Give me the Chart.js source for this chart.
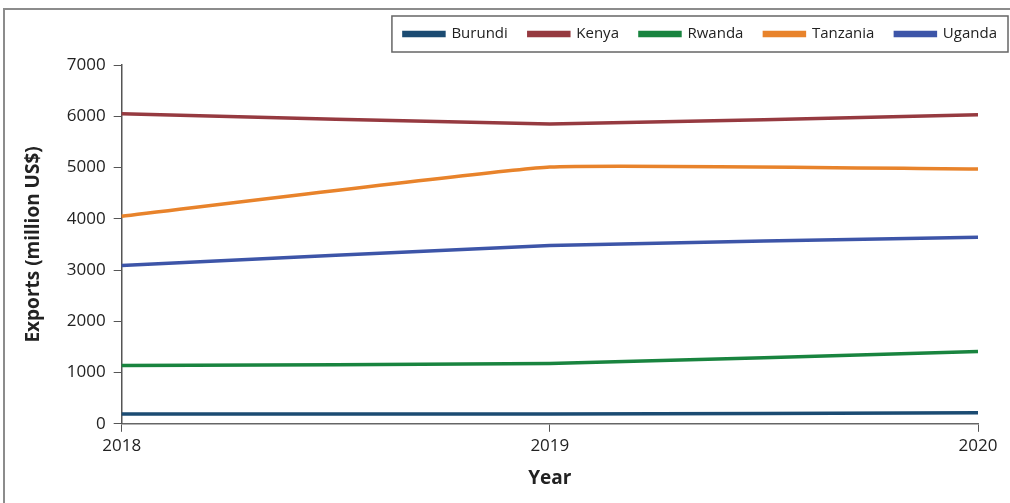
<!DOCTYPE html>
<html>
<head>
<meta charset="utf-8">
<script src="https://cdn.jsdelivr.net/npm/chart.js@4/dist/chart.umd.min.js"></script>
<style>
  html, body { margin: 0; padding: 0; background: #fff; overflow: hidden; }
  #wrap { position: absolute; left: 0; top: 0; width: 1010px; height: 503px; }
</style>
</head>
<body>
<div id="wrap"><canvas id="exportsChart"></canvas></div>
<script>
const years = ['2018', '2019', '2020'];

const burundi  = [190, 190, 215];
const kenya    = [6050, 5850, 6030];
const rwanda   = [1135, 1175, 1410];
const tanzania = [4050, 5010, 4970];
const uganda   = [3090, 3480, 3640];

const yTicks = [0, 1000, 2000, 3000, 4000, 5000, 6000, 7000];

const seriesNames  = ['Burundi', 'Kenya', 'Rwanda', 'Tanzania', 'Uganda'];
const seriesValues = [burundi, kenya, rwanda, tanzania, uganda];
const seriesColors = ['#1b4b72', '#963a40', '#19843f', '#e8832b', '#3d55a8'];

const FONT = "'Open Sans', 'Noto Sans', sans-serif";

// page frame (left + top edge) and the box round the legend
const frameAndLegendBox = {
  id: 'frameAndLegendBox',
  afterInit(chart) {
    // leave extra room between legend and plot
    const legend = chart.legend;
    const fit = legend.fit;
    legend.fit = function () { fit.call(this); this.height += 13.5; };
  },
  afterDraw(chart) {
    const ctx = chart.ctx;
    ctx.save();
    ctx.strokeStyle = '#8c8c8c';
    ctx.lineWidth = 2;
    ctx.beginPath();
    ctx.moveTo(4, chart.height);
    ctx.lineTo(4, 9);
    ctx.lineTo(chart.width, 9);
    ctx.stroke();

    const boxes = chart.legend.legendHitBoxes;
    if (boxes && boxes.length) {
      const left = Math.min(...boxes.map(b => b.left)) - 12;
      const right = Math.max(...boxes.map(b => b.left + b.width)) + 11;
      const top = Math.min(...boxes.map(b => b.top)) - 10.5;
      const bottom = Math.max(...boxes.map(b => b.top + b.height)) + 10.5;
      ctx.strokeStyle = '#666';
      ctx.lineWidth = 1.5;
      ctx.strokeRect(left, top, right - left, bottom - top);
    }
    ctx.restore();
  }
};

new Chart(document.getElementById('exportsChart'), {
  type: 'line',
  data: {
    labels: years,
    datasets: seriesNames.map((name, i) => ({
      label: name,
      data: seriesValues[i],
      borderColor: seriesColors[i],
      backgroundColor: seriesColors[i],
      borderWidth: 3.5,
      pointRadius: 0,
      tension: 0.12,
      fill: false
    }))
  },
  options: {
    responsive: true,
    maintainAspectRatio: false,
    animation: false,
    layout: { padding: { left: 18, right: -8, top: 5.5, bottom: 9 } },
    plugins: {
      tooltip: { enabled: false },
      legend: {
        position: 'top',
        align: 'end',
        labels: {
          boxWidth: 40,
          boxHeight: 3,
          padding: 21,
          color: '#222',
          font: { family: FONT, size: 15 }
        }
      }
    },
    scales: {
      x: {
        offset: false,
        grid: { drawOnChartArea: false, drawTicks: true, tickLength: 8, color: '#555' },
        border: { color: '#666', width: 1.5 },
        ticks: { color: '#222', font: { family: FONT, size: 17 }, padding: 4 },
        title: {
          display: true, text: 'Year', color: '#222',
          font: { family: FONT, size: 19, weight: 'bold' }, padding: { top: 7 }
        }
      },
      y: {
        min: 0,
        max: 7000,
        afterBuildTicks(axis) { axis.ticks = yTicks.map(v => ({ value: v })); },
        grid: { drawOnChartArea: false, drawTicks: true, tickLength: 8, color: '#555' },
        border: { color: '#555', width: 1.5 },
        ticks: {
          color: '#222', font: { family: FONT, size: 17 }, padding: 8,
          callback: v => String(v)
        },
        title: {
          display: true, text: 'Exports (million US$)', color: '#222',
          font: { family: FONT, size: 19, weight: 'bold' }, padding: { top: 4, bottom: 14 }
        }
      },
      // empty right-hand axis, keeps the plot clear of the page edge
      yRight: {
        position: 'right',
        display: true,
        grid: { display: false },
        border: { display: false },
        ticks: { display: false },
        afterFit(axis) { axis.width = 40; }
      }
    }
  },
  plugins: [frameAndLegendBox]
});
</script>
</body>
</html>
